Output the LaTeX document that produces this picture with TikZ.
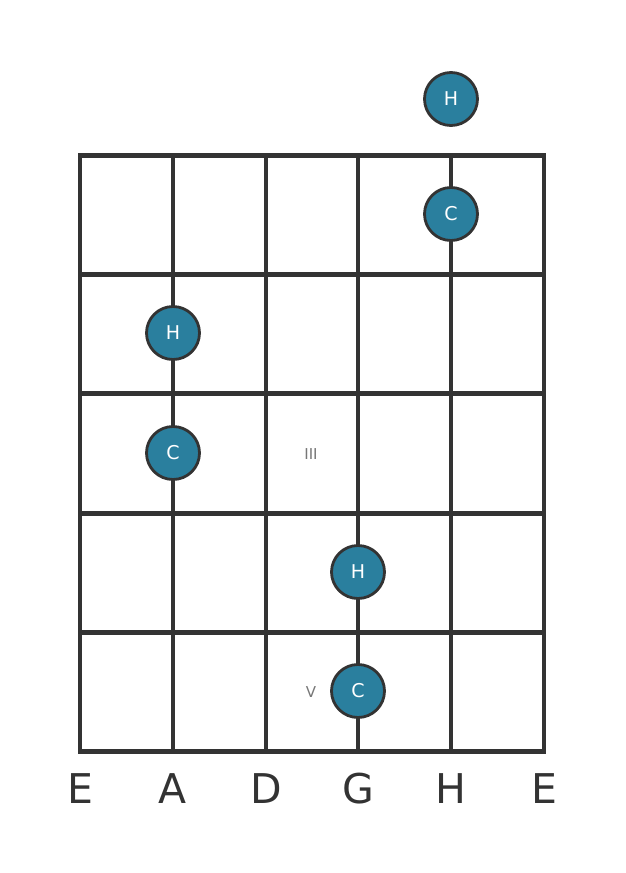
\documentclass[tikz,border=0pt]{standalone}
\usepackage{fontspec}
\setmainfont{DejaVu Sans}
\definecolor{ink}{HTML}{333333}
\definecolor{dot}{HTML}{2A7F9E}
\definecolor{roman}{HTML}{777777}
\begin{document}
\begin{tikzpicture}[x=1pt,y=-1pt,
  fret/.style={draw=ink,line width=5pt},
  stringline/.style={draw=ink,line width=3.2pt},
  note/.style={circle,draw=ink,line width=2.8pt,fill=dot,minimum size=53pt,inner sep=0pt,text=white,font=\fontsize{19}{19}\selectfont},
  strlabel/.style={text=ink,font=\fontsize{41}{41}\selectfont,anchor=base},
  rom/.style={text=roman,font=\fontsize{15}{15}\selectfont}]
\useasboundingbox (0,0) rectangle (626,873);
\fill[white] (0,0) rectangle (626,873);
% strings
\foreach \i/\x in {0/80,1/173,2/266,3/358,4/451,5/544}{
  \coordinate (st\i) at (\x,155);
  \coordinate (sb\i) at (\x,751);
  \draw[stringline] (st\i) -- (sb\i);
}
% frets
\foreach \j/\y in {0/155,1/274,2/393,3/513,4/632,5/751}{
  \coordinate (fl\j) at (78,\y);
  \coordinate (fr\j) at (546,\y);
  \draw[fret] (fl\j) -- (fr\j);
}
% notes
\node[note] (n1) at (451,99) {H};
\node[note] (n2) at (451,214) {C};
\node[note] (n3) at (173,333) {H};
\node[note] (n4) at (173,453) {C};
\node[note] (n5) at (358,572) {H};
\node[note] (n6) at (358,691) {C};
% position markers
\node[rom] (r3) at (311,454) {III};
\node[rom] (r5) at (311,692) {V};
% string names
\node[strlabel] (l0) at (80,803) {E};
\node[strlabel] (l1) at (173,803) {A};
\node[strlabel] (l2) at (266,803) {D};
\node[strlabel] (l3) at (358,803) {G};
\node[strlabel] (l4) at (451,803) {H};
\node[strlabel] (l5) at (544,803) {E};
\end{tikzpicture}
\end{document}
